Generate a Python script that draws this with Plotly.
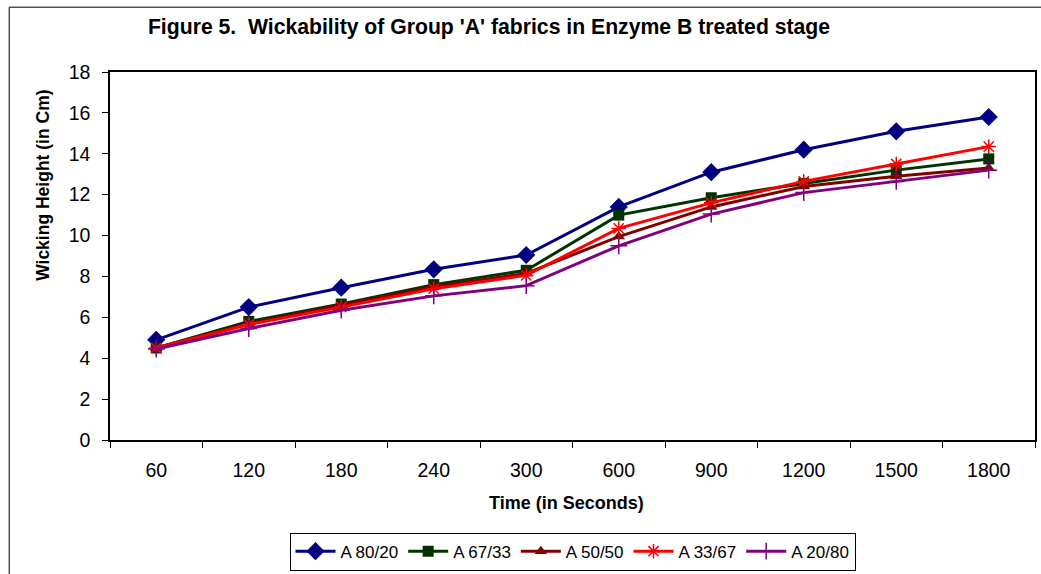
import plotly.graph_objects as go

categories = ["60", "120", "180", "240", "300", "600", "900", "1200", "1500", "1800"]
a_80_20 = [4.9, 6.5, 7.45, 8.35, 9.05, 11.4, 13.1, 14.2, 15.1, 15.8]
a_67_33 = [4.5, 5.8, 6.65, 7.6, 8.3, 11.0, 11.85, 12.55, 13.2, 13.75]
a_50_50 = [4.5, 5.7, 6.6, 7.5, 8.15, 9.95, 11.4, 12.4, 12.9, 13.3]
a_33_67 = [4.5, 5.65, 6.5, 7.4, 8.05, 10.35, 11.6, 12.65, 13.5, 14.35]
a_20_80 = [4.45, 5.45, 6.35, 7.05, 7.55, 9.5, 11.05, 12.1, 12.65, 13.2]
series_names = ["A 80/20", "A 67/33", "A 50/50", "A 33/67", "A 20/80"]
y_ticks = [0, 2, 4, 6, 8, 10, 12, 14, 16, 18]

styles = [
    dict(color="#000080", symbol="diamond", size=14),
    dict(color="#003300", symbol="square", size=11),
    dict(color="#800000", symbol="triangle-up", size=11),
    dict(color="#FF0000", symbol="asterisk-open", size=12),
    dict(color="#800080", symbol="cross-thin-open", size=12),
]

fig = go.Figure()
for name, vals, st in zip(series_names, [a_80_20, a_67_33, a_50_50, a_33_67, a_20_80], styles):
    marker = dict(symbol=st["symbol"], size=st["size"], color=st["color"])
    if st["symbol"].endswith("open"):
        marker["line"] = dict(color=st["color"], width=1.5)
    fig.add_trace(go.Scatter(
        x=categories, y=vals, name=name, mode="lines+markers",
        line=dict(color=st["color"], width=3), marker=marker,
    ))

W, H = 1041, 574
L, R, T, B = 110, 1037, 72, 441
pw, ph = R - L, B - T
FONT = "Liberation Sans, Arial, sans-serif"

fig.update_layout(
    width=W, height=H,
    margin=dict(l=L, r=W - R, t=T, b=H - B),
    paper_bgcolor="white", plot_bgcolor="white",
    font=dict(family=FONT, color="black"),
    title=dict(
        text="<b>Figure 5.&nbsp; Wickability of Group 'A' fabrics in Enzyme B treated stage</b>",
        font=dict(family=FONT, size=21.2, color="black"),
        xref="container", yref="container",
        x=489 / W, y=1 - 27 / H, xanchor="center", yanchor="middle",
    ),
    xaxis=dict(
        type="category", range=[-0.5, 9.5], tickson="boundaries",
        ticks="outside", ticklen=6,
        tickcolor="black", showline=True, linecolor="black", linewidth=1.5,
        mirror=True, showgrid=False, tickfont=dict(family=FONT, size=19.5),
        ticklabelstandoff=12,
    ),
    yaxis=dict(
        range=[0, 18], tickvals=y_ticks, ticks="outside", ticklen=6,
        tickcolor="black", showline=True, linecolor="black", linewidth=1.5,
        mirror=True, showgrid=False, zeroline=False, tickfont=dict(family=FONT, size=19.5),
        ticklabelstandoff=8,
    ),
    legend=dict(
        orientation="h", x=0.5, xanchor="center",
        y=(B - 572) / ph, yanchor="bottom",
        bordercolor="black", borderwidth=1, font=dict(family=FONT, size=17),
        traceorder="normal", itemwidth=40,
    ),
    annotations=[
        dict(text="<b>Time (in Seconds)</b>", xref="paper", yref="paper",
             x=(567 - L) / pw, y=(B - 504.5) / ph, xanchor="center", yanchor="middle",
             showarrow=False, font=dict(family=FONT, size=18)),
        dict(text="<b>Wicking Height (in Cm)</b>", xref="paper", yref="paper",
             x=(43 - L) / pw, y=(B - 186) / ph, xanchor="center", yanchor="middle",
             textangle=-90, showarrow=False, font=dict(family=FONT, size=17.5)),
    ],
    shapes=[dict(
        type="rect", xref="paper", yref="paper",
        x0=(9 - L) / pw, x1=(1046 - L) / pw,
        y0=(B - 580) / ph, y1=(B - 7) / ph,
        line=dict(color="black", width=1), fillcolor="rgba(0,0,0,0)", layer="below",
    )],
)

fig.write_html("out.html")
